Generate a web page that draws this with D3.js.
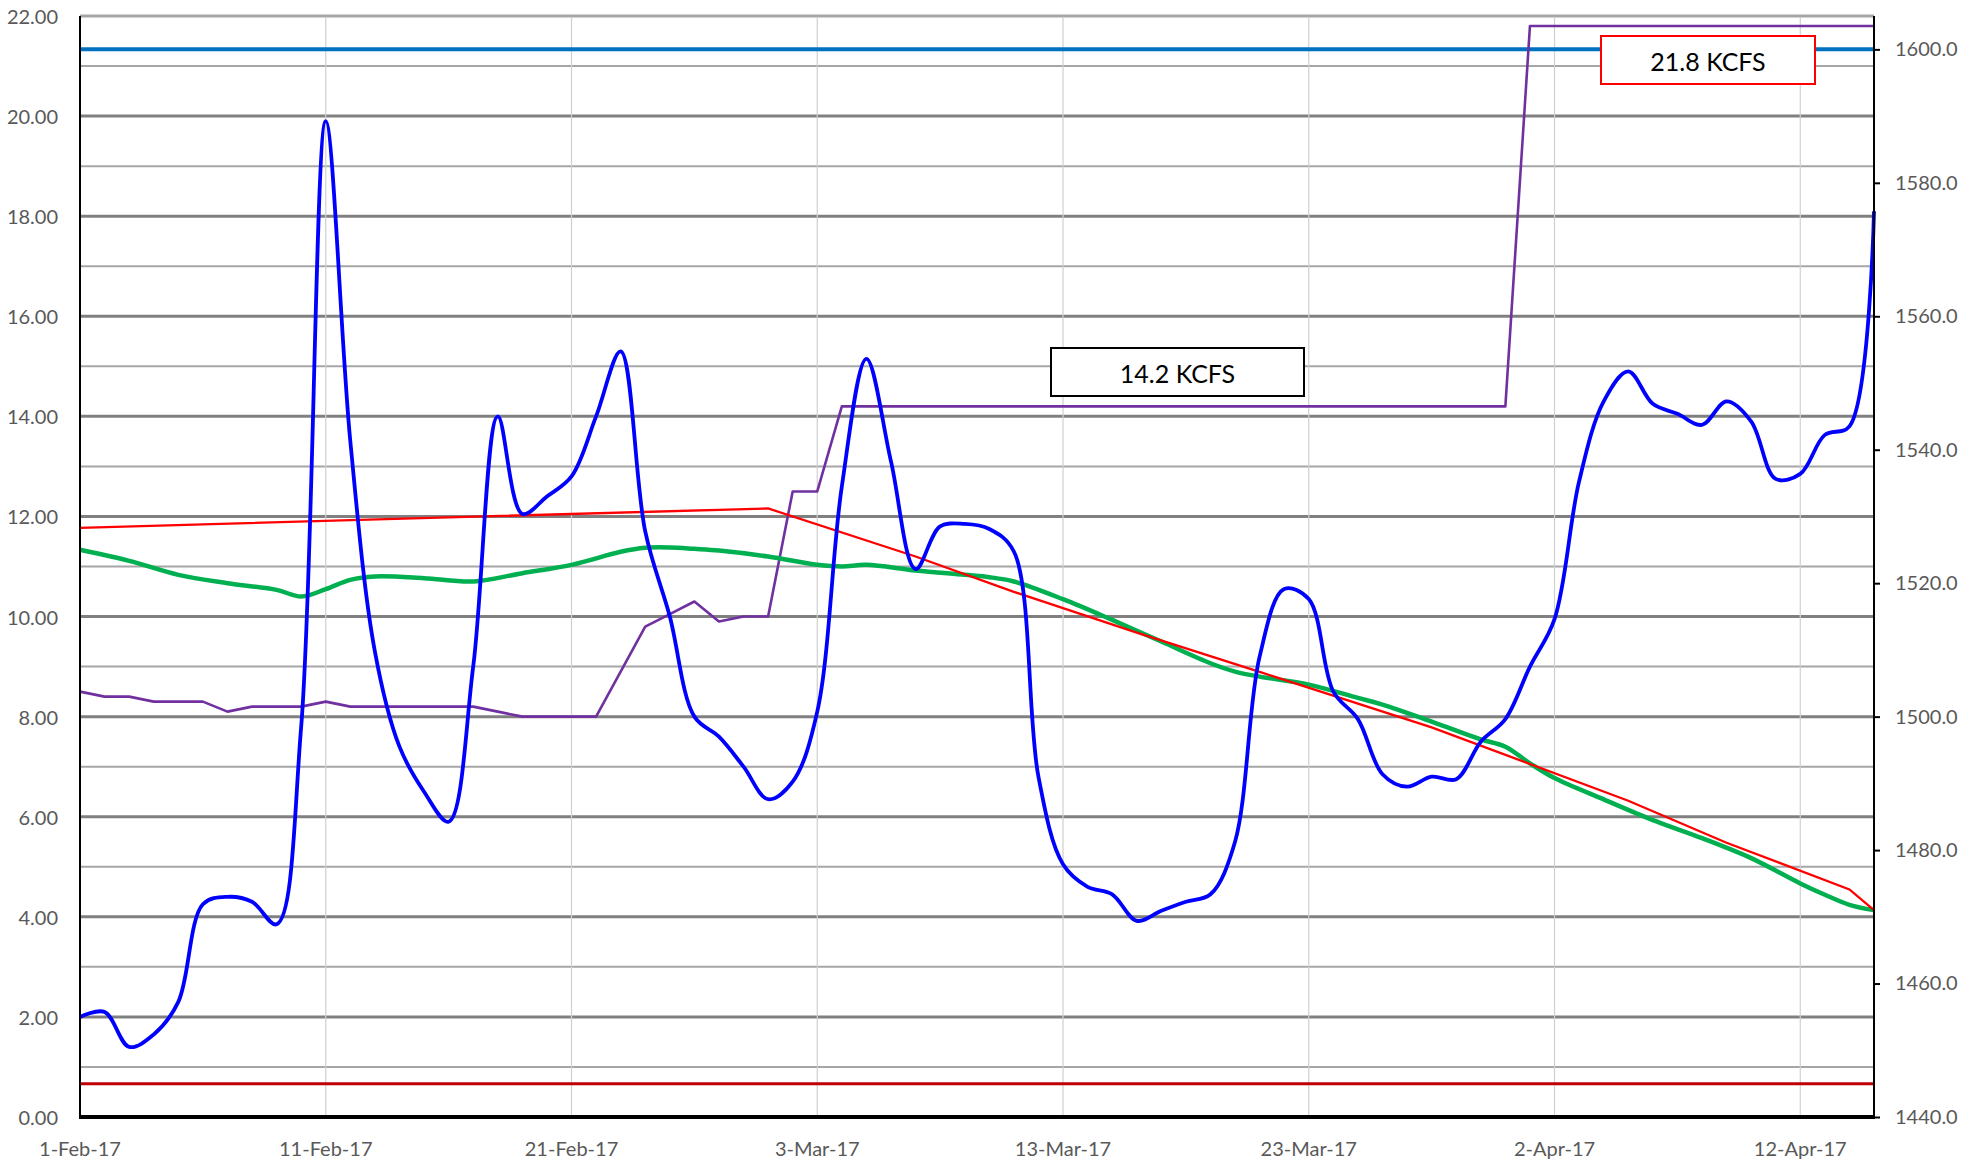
<!DOCTYPE html>
<html><head><meta charset="utf-8">
<script src="https://cdn.jsdelivr.net/npm/d3@7"></script>
<style>body{margin:0;background:#fff}svg{display:block}text{font-family:Lato,"Open Sans",sans-serif}</style>
</head><body><svg id="c" width="1971" height="1168"></svg>
<script>
// ---- data ----
const startDate = new Date(2017, 1, 1);
const endDate = new Date(2017, 3, 15);
const days = d3.timeDay.range(startDate, d3.timeDay.offset(endDate, 1)); // daily categories, 1-Feb-17 .. 15-Apr-17

// daily flow (KCFS, left axis) - blue
const flowKcfs = [2.0,2.1,1.4,1.65,2.3,4.25,4.4,4.3,3.85,7.8,
  19.9,13.5,9.3,7.4,6.5,5.9,9.0,14.0,12.05,12.4,
  12.8,14.0,15.3,11.7,10.0,8.0,7.6,7.0,6.35,6.7,
  8.1,12.6,15.15,13.1,10.95,11.8,11.85,11.75,11.3,6.8,
  5.05,4.6,4.45,3.92,4.12,4.3,4.45,5.5,9.2,10.55,
  10.35,8.5,7.95,6.85,6.6,6.8,6.75,7.5,7.95,9.0,
  9.95,12.7,14.3,14.9,14.25,14.05,13.83,14.3,13.9,12.75,
  12.85,13.63,13.8,18.1];

// release (KCFS, left axis) - purple
const releaseKcfs = [8.5,8.4,8.4,8.3,8.3,8.3,8.1,8.2,8.2,8.2,
  8.3,8.2,8.2,8.2,8.2,8.2,8.2,8.1,8.0,8.0,
  8.0,8.0,8.9,9.8,10.05,10.3,9.9,10.0,10.0,12.5,
  12.5,14.2,14.2,14.2,14.2,14.2,14.2,14.2,14.2,14.2,
  14.2,14.2,14.2,14.2,14.2,14.2,14.2,14.2,14.2,14.2,
  14.2,14.2,14.2,14.2,14.2,14.2,14.2,14.2,14.2,21.8,
  21.8,21.8,21.8,21.8,21.8,21.8,21.8,21.8,21.8,21.8,
  21.8,21.8,21.8,21.8];

// elevation (ft, right axis) - green; day offsets from 1-Feb-17
const elevDay = [0,2,4,6,8,9,10,11,12,14,16,18,20,22,23,24,25,26,28,30,31,32,34,36,37,38,40,42,44,46,47,48,50,52,53,55,57,58,59,60,62,64,66,68,70,71,72,73];
const elevFt  = [1525.0,1523.35,1521.25,1520.0,1519.0,1518.0,1519.1,1520.5,1521.0,1520.75,1520.25,1521.5,1522.75,1524.7,1525.3,1525.35,1525.15,1524.9,1524.0,1522.75,1522.5,1522.75,1521.9,1521.25,1520.9,1520.25,1517.6,1514.5,1511.25,1508.0,1506.75,1506.0,1504.8,1502.8,1501.8,1499.26,1496.6,1495.5,1493.0,1490.8,1487.6,1484.5,1481.8,1478.8,1475.0,1473.3,1471.8,1471.0];

// rule curve (ft, right axis) - red
const ruleDay = [0,28,34,38,43,48,55,63,67,72,73];
const ruleFt  = [1528.3,1531.2,1524.0,1518.7,1512.6,1506.7,1498.4,1487.4,1481.1,1474.1,1471.0];

// reference levels (right axis)
const topLevelFt = 1600;
const bottomLevelFt = 1445;

// annotations
const notes = ["14.2 KCFS", "21.8 KCFS"];

// ticks
const leftTicks = d3.range(0, 22.001, 2);
const rightTicks = d3.range(1440, 1600.001, 20);
const xTickDays = [0,10,20,30,40,50,60,70];

// ---- layout ----
const W = 1971, H = 1168;
const m = {l:80, r:97, t:16, b:51};
const svg = d3.select("#c");
const x = d3.scaleTime().domain([startDate, endDate]).range([m.l, W - m.r]);
const yL = d3.scaleLinear().domain([0, 22]).range([H - m.b, m.t]);
const yR = d3.scaleLinear().domain([1440, 1605]).range([H - m.b, m.t]);
const dayAt = i => d3.timeDay.offset(startDate, i);

// horizontal gridlines
const g = svg.append("g");
d3.range(1, 23).forEach(v => {
  const major = v % 2 === 0;
  g.append("line").attr("x1", m.l).attr("x2", W - m.r)
    .attr("y1", yL(v)).attr("y2", yL(v))
    .attr("stroke", v === 22 ? "#a6a6a6" : (major ? "#808080" : "#a6a6a6"))
    .attr("stroke-width", major ? 3 : 2);
});
// vertical gridlines
xTickDays.slice(1).forEach(d => {
  g.append("line").attr("x1", x(dayAt(d))).attr("x2", x(dayAt(d)))
    .attr("y1", m.t + 2).attr("y2", H - m.b)
    .attr("stroke", "#d0d0d0").attr("stroke-width", 1.2);
});

// reference lines
svg.append("line").attr("x1", m.l).attr("x2", W - m.r)
  .attr("y1", yR(topLevelFt)).attr("y2", yR(topLevelFt))
  .attr("stroke", "#0070c0").attr("stroke-width", 4);
svg.append("line").attr("x1", m.l).attr("x2", W - m.r)
  .attr("y1", yR(bottomLevelFt)).attr("y2", yR(bottomLevelFt))
  .attr("stroke", "#c00000").attr("stroke-width", 3);

// series
const smooth = d3.curveCatmullRom.alpha(0.5);
svg.append("path").datum(releaseKcfs)
  .attr("d", d3.line().x((d, i) => x(days[i])).y(d => yL(d)))
  .attr("fill", "none").attr("stroke", "#7030a0").attr("stroke-width", 2.6).attr("stroke-linejoin", "round");
svg.append("path").datum(elevFt)
  .attr("d", d3.line().curve(smooth).x((d, i) => x(dayAt(elevDay[i]))).y(d => yR(d)))
  .attr("fill", "none").attr("stroke", "#00b050").attr("stroke-width", 4.5);
svg.append("path").datum(ruleFt)
  .attr("d", d3.line().x((d, i) => x(dayAt(ruleDay[i]))).y(d => yR(d)))
  .attr("fill", "none").attr("stroke", "#ff0000").attr("stroke-width", 2.3);
svg.append("path").datum(flowKcfs)
  .attr("d", d3.line().curve(smooth).x((d, i) => x(days[i])).y(d => yL(d)))
  .attr("fill", "none").attr("stroke", "#0000ff").attr("stroke-width", 3.8);

// axes
svg.append("line").attr("x1", m.l).attr("x2", m.l).attr("y1", m.t).attr("y2", H - m.b)
  .attr("stroke", "#000").attr("stroke-width", 2);
svg.append("line").attr("x1", W - m.r).attr("x2", W - m.r).attr("y1", m.t).attr("y2", H - m.b)
  .attr("stroke", "#000").attr("stroke-width", 2);
svg.append("line").attr("x1", m.l - 1).attr("x2", W - m.r + 1).attr("y1", H - m.b).attr("y2", H - m.b)
  .attr("stroke", "#000").attr("stroke-width", 4);

// left labels
svg.append("g").selectAll("text").data(leftTicks).join("text")
  .attr("x", 58).attr("y", d => yL(d)).attr("text-anchor", "end").attr("dominant-baseline", "central")
  .attr("font-size", 20).attr("fill", "#595959").text(d3.format(".2f"));
// right axis
const ra = svg.append("g").attr("transform", `translate(${W - m.r},0)`)
  .call(d3.axisRight(yR).tickValues(rightTicks).tickSize(6).tickPadding(15).tickFormat(d3.format(".1f")));
ra.select(".domain").remove();
ra.selectAll(".tick line").attr("stroke", "#000").attr("stroke-width", 2);
ra.selectAll(".tick text").attr("font-size", 20).attr("fill", "#595959").attr("font-family", "Lato, sans-serif");
// x labels
const xf = d3.timeFormat("%-d-%b-%y");
svg.append("g").selectAll("text").data(xTickDays).join("text")
  .attr("x", d => x(dayAt(d))).attr("y", 1148).attr("text-anchor", "middle").attr("dominant-baseline", "central")
  .attr("font-size", 20).attr("fill", "#595959").text(d => xf(dayAt(d)));

// annotation boxes
const boxes = [
  {t: notes[0], x: 1051, y: 348, w: 253, h: 48, c: "#000"},
  {t: notes[1], x: 1601, y: 36, w: 214, h: 48, c: "#ff0000"}
];
boxes.forEach(b => {
  svg.append("rect").attr("x", b.x).attr("y", b.y).attr("width", b.w).attr("height", b.h)
    .attr("fill", "#fff").attr("stroke", b.c).attr("stroke-width", 2);
  svg.append("text").attr("x", b.x + b.w / 2).attr("y", b.y + b.h / 2 + 1)
    .attr("text-anchor", "middle").attr("dominant-baseline", "central")
    .attr("font-size", 25).attr("fill", "#000").text(b.t);
});
</script></body></html>
